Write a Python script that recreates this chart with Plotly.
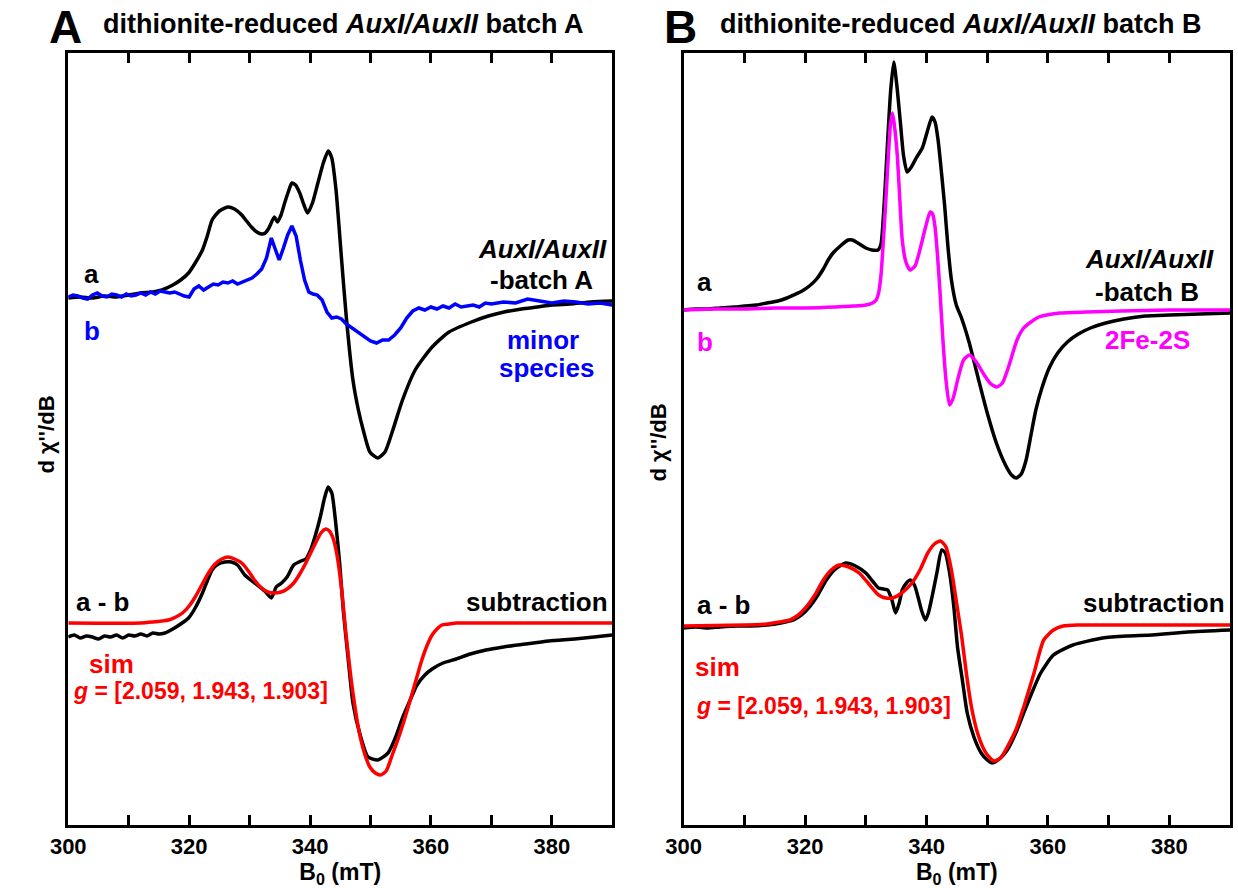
import plotly.graph_objects as go

W, H = 1238, 888

# ---------------- Panel A data (B0 in mT, signal in arbitrary units, relative to own baseline) ----
A_a_B = [300, 302, 304, 306, 308, 310, 312, 314, 315.5, 317.3, 318.6, 319.9, 321, 322.2, 323, 323.8,
         325, 326.4, 327.5, 328.7, 329.5, 330.3, 331.2, 332.0, 332.6, 333.2, 334.1, 334.6, 335.2, 335.8,
         336.4, 337.0, 337.6, 338.3, 339.0, 339.6, 340.4, 341.3, 342.2, 343.0, 343.6, 344.3, 345.2,
         346.0, 347.1, 348.0, 348.8, 349.9, 351.2, 352.4, 353.7, 355.3, 357.4, 360.2, 363.0, 366.7,
         369.5, 372.1, 375, 377.6, 380, 383.0, 386.5, 390]
A_a_val = [0, 1, 0, 2, 1, 3, 5, 6, 8, 13, 18, 25, 35, 48, 62, 78, 87, 91, 89, 83, 77, 71, 66, 64, 65,
           70, 81, 76, 83, 95, 106, 115, 113, 105, 93, 85, 95, 115, 135, 147, 140, 108, 40, -19, -82,
           -112, -132, -154, -160, -154, -132, -102, -72, -49, -34, -24, -18, -14, -11, -9, -7, -6, -4, -3]

A_b_B = [300, 300.8, 301.6, 302.4, 303.2, 304, 304.8, 305.6, 306.4, 307.2, 308, 308.8, 309.6, 310.4,
         311.2, 312, 312.8, 313.6, 314.4, 315.2, 316, 316.8, 317.6, 318.4, 319.2, 320, 320.8, 321.6,
         322.4, 323.2, 324, 324.8, 325.6, 326.4, 327.2, 328, 328.8, 329.6, 330.4, 331.2, 332, 332.8,
         333.6, 334.3, 334.9, 335.6, 336.3, 337.0, 337.7, 338.4, 339.1, 339.8, 340.5, 341.2, 342,
         342.8, 343.6, 344.4, 345.2, 346, 347, 348, 349, 350, 351, 352, 353, 354, 355, 356, 357, 358,
         359, 360, 361, 362, 363, 364, 365, 366, 367, 368, 369, 370, 372, 374, 376, 378, 380, 382,
         384, 386, 388, 390]
A_b_val = [1, 3, 2, 0, -1, 3, 5, 2, 1, 4, 3, 1, 4, 2, 3, 5, 3, 6, 4, 7, 6, 5, 6, 4, 2, 1, 9, 12, 8,
           11, 14, 13, 16, 15, 17, 14, 16, 18, 20, 24, 29, 40, 60, 48, 38, 50, 63, 72, 62, 38, 18, 6,
           4, 3, -2, -14, -20, -19, -21, -26, -30, -34, -38, -43, -45, -42, -42, -37, -30, -20, -13,
           -10, -12, -9, -11, -8, -10, -6, -9, -8, -7, -9, -5, -6, -4, -5, -1, -3, -5, -3, -4, -6, -5, -7]

A_sub_B = [300, 301, 302, 303, 304, 305, 306, 307, 308, 309, 310, 311, 312, 313, 314, 315, 316, 317.3,
           318.6, 319.9, 321, 322.2, 323.0, 323.8, 324.8, 325.9, 327, 328.0, 329.2, 330.2, 331.3, 332.5,
           333.6, 334.4, 335.3, 336.2, 337.3, 338.5, 339.3, 340.1, 340.9, 341.7, 342.4, 343.0, 343.6,
           344.2, 344.9, 345.5, 346.3, 347.1, 348.3, 349.6, 351.2, 352.9, 354.1, 355.3, 356.5, 357.7,
           359, 360.2, 362, 364.2, 366.5, 369.1, 372, 375.6, 379.5, 383.8, 387, 390]
A_sub_val = [-14, -12, -15, -13, -14, -16, -13, -14, -12, -15, -12, -13, -11, -13, -10, -11, -10, -6,
             -1, 5, 15, 30, 42, 53, 59, 61, 61, 58, 48, 43, 38, 32, 25, 36, 40, 46, 58, 62, 64, 73, 88,
             106, 125, 136, 130, 103, 60, 13, -35, -80, -112, -134, -137, -130, -115, -95, -78, -62,
             -52, -46, -40, -36, -31, -27, -24, -21, -18, -16, -14, -12]

A_sim_B = [300, 312, 314, 315.5, 316.6, 317.8, 318.9, 320, 321.0, 322.1, 323.2, 324.3, 325.4, 326.4,
           327.5, 328.7, 329.8, 330.8, 332, 333, 334.1, 335.2, 336.2, 337.3, 338.4, 339.3, 340.1, 341,
           341.8, 342.6, 343.2, 343.8, 344.4, 345.2, 346.0, 347.1, 348.3, 349.1, 349.9, 350.8, 351.7,
           352.6, 353.6, 354.8, 356.1, 357.3, 358.5, 359.4, 360.2, 361, 361.8, 363, 364.2, 370, 380, 390]
A_sim_val = [0, 0, 1, 2, 3, 6, 10, 17, 26, 38, 50, 59, 64, 66, 64, 60, 52, 43, 35, 31, 30, 31, 34, 40,
             50, 60, 70, 81, 90, 94, 92, 85, 70, 35, -14, -70, -114, -132, -144, -150, -152, -148,
             -132, -112, -87, -62, -37, -22, -12, -6, -2, -1, 0, 0, 0, 0]

# ---------------- Panel B data ----------------
B_a_B = [300, 302, 304, 306, 308.4, 310, 312, 313.7, 315.5, 317, 318.1, 319.5, 320.7, 321.9, 323.0,
         323.8, 324.6, 325.8, 327.1, 327.8, 328.4, 329.2, 330.0, 331, 332.0, 332.5, 332.8, 333.2,
         333.6, 334.1, 334.6, 335.1, 335.7, 336.2, 336.8, 337.5, 338.3, 339.3, 340.1, 340.9, 341.4,
         341.9, 342.5, 343.0, 343.5, 344.1, 344.9, 345.7, 347.0, 348.5, 350.0, 351.5, 353.0, 354.0,
         354.8, 355.6, 356.4, 357.2, 358.0, 359.0, 360.2, 361.6, 363.2, 365.0, 367.0, 369.5, 372.5,
         376, 380, 385, 390]
B_a_val = [0, 1, 1, 2, 3, 4, 5, 7, 9, 12, 15, 19, 24, 31, 41, 50, 57, 64, 70, 70, 68, 65, 62, 60, 60,
           66, 85, 125, 170, 220, 248, 225, 187, 155, 138, 143, 152, 162, 178, 193, 188, 170, 135,
           103, 65, 30, 5, -7, -32, -68, -103, -133, -155, -165, -168, -164, -150, -125, -100, -78,
           -58, -43, -32, -24, -18, -13, -9, -6, -5, -4, -3]

B_b_B = [300, 305, 310, 315, 320, 325, 328, 330, 331.1, 331.7, 332.1, 332.5, 332.9, 333.3, 333.7,
         334.05, 334.4, 334.8, 335.2, 335.6, 336.0, 336.6, 337.3, 338.1, 338.9, 339.8, 340.6, 341.0,
         341.4, 341.8, 342.2, 342.7, 343.2, 343.8, 344.4, 345.2, 346.1, 347.1, 348.2, 349.5, 350.6,
         351.6, 352.5, 353.5, 354.9, 356, 357.2, 358.5, 359.8, 362, 366.3, 372, 380, 390]
B_b_val = [0, 1, 1, 2, 2, 3, 4, 5, 7, 10, 17, 35, 70, 110, 153, 185, 197, 180, 153, 110, 70, 48, 40,
           44, 60, 82, 98, 96, 83, 55, 20, -30, -70, -95, -88, -68, -50, -45, -52, -65, -74, -77,
           -73, -57, -30, -18, -12, -7, -5, -3, -2, -1, 0, 0]

B_sub_B = [300, 302, 304, 306, 308.9, 311, 313.7, 316, 318.1, 319.4, 320.7, 322.1, 323.5, 325, 326.7,
           328.3, 330.0, 331.1, 332.1, 332.9, 333.6, 334.3, 334.9, 335.5, 336.0, 336.7, 337.3, 338.0,
           338.6, 339.2, 339.8, 340.3, 340.9, 341.7, 342.5, 343.1, 343.8, 344.5, 345.1, 345.9, 346.7,
           347.8, 349.0, 350.0, 350.8, 352, 353.3, 354.7, 356.0, 357.4, 358.8, 360.9, 364.1, 369.0,
           373, 377.2, 383, 390]
B_sub_val = [-3, -2, -3, -2, -1, -1, 0, 2, 5, 10, 18, 30, 45, 56, 62, 59, 52, 44, 37, 36, 35, 25, 12,
             22, 35, 42, 45, 40, 28, 14, 5, 12, 28, 52, 75, 72, 52, 18, -22, -55, -88, -112, -128,
             -135, -138, -134, -125, -108, -88, -67, -48, -30, -20, -13, -11, -10, -7, -5]

B_sim_B = [300, 310, 313.7, 315.8, 317.5, 318.9, 320.2, 321.6, 323.0, 324.3, 325.6, 327.2, 328.9,
           330.5, 332.1, 333.3, 334.4, 335.9, 337.6, 339, 340.2, 341.3, 342.3, 343.2, 344.1, 345.0,
           345.8, 346.6, 347.4, 348.4, 349.5, 350.3, 351.1, 352.2, 353.3, 354.7, 356.0, 357.7, 359.3,
           360.9, 362.5, 365, 375, 390]
B_sim_val = [-1, 0, 1, 3, 5, 10, 18, 30, 45, 55, 60, 58, 52, 41, 30, 27, 27, 32, 42, 56, 72, 81, 84,
             78, 55, 20, -12, -50, -82, -108, -125, -132, -136, -133, -122, -105, -82, -48, -15, -5,
             -1, 0, 0, 0]

# vertical offsets of the stacked spectra
OFF_A_TOP, OFF_A_BOT = 527, 202
OFF_B_TOP, OFF_B_BOT = 515, 200

for xs, ys in [(A_a_B, A_a_val), (A_b_B, A_b_val), (A_sub_B, A_sub_val), (A_sim_B, A_sim_val),
               (B_a_B, B_a_val), (B_b_B, B_b_val), (B_sub_B, B_sub_val), (B_sim_B, B_sim_val)]:
    assert len(xs) == len(ys), (len(xs), len(ys), xs[0])

MAJOR_TICKS = [300, 320, 340, 360, 380]

FONT = "Liberation Sans, Arial, sans-serif"
BLACK, BLUE, MAG, RED = "#000000", "#0000FF", "#FF00FF", "#FF0000"

fig = go.Figure()


def add(xs, ys, off, color, xa, ya, smooth=False):
    fig.add_trace(go.Scatter(
        x=xs, y=[v + off for v in ys], mode="lines",
        line=dict(color=color, width=3.5, shape="spline" if smooth else "linear",
                  smoothing=0.6 if smooth else None),
        xaxis=xa, yaxis=ya, showlegend=False, hoverinfo="skip"))


add(A_a_B, A_a_val, OFF_A_TOP, BLACK, "x", "y", True)
add(A_b_B, A_b_val, OFF_A_TOP, BLUE, "x", "y")
add(A_sub_B, A_sub_val, OFF_A_BOT, BLACK, "x", "y", True)
add(A_sim_B, A_sim_val, OFF_A_BOT, RED, "x", "y", True)

add(B_a_B, B_a_val, OFF_B_TOP, BLACK, "x2", "y2", True)
add(B_b_B, B_b_val, OFF_B_TOP, MAG, "x2", "y2", True)
add(B_sub_B, B_sub_val, OFF_B_BOT, BLACK, "x2", "y2", True)
add(B_sim_B, B_sim_val, OFF_B_BOT, RED, "x2", "y2", True)

ydom = [1 - 825 / H, 1 - 53 / H]
xcommon = dict(range=[300, 390], tickmode="array", tickvals=MAJOR_TICKS, ticks="inside", ticklen=10,
               tickwidth=3, tickcolor="black", showline=True, linewidth=3, linecolor="black",
               mirror="ticks", showgrid=False, zeroline=False,
               minor=dict(tickmode="linear", tick0=300, dtick=10, ticks="inside", ticklen=10,
                          tickwidth=3, tickcolor="black", showgrid=False),
               tickfont=dict(family=FONT, size=22, color="black", weight="bold"),
               title=dict(text="<b>B<sub>0</sub> (mT)</b>", font=dict(family=FONT, size=23, color="black"),
                          standoff=4))
ycommon = dict(range=[0, 772], showline=True, linewidth=3, linecolor="black", mirror=True,
               showticklabels=False, ticks="", showgrid=False, zeroline=False, domain=ydom)

fig.update_layout(
    width=W, height=H, margin=dict(l=0, r=0, t=0, b=0),
    paper_bgcolor="white", plot_bgcolor="white",
    xaxis=dict(domain=[51 / W, 603 / W], anchor="y", **xcommon),
    yaxis=dict(anchor="x", **ycommon),
    xaxis2=dict(domain=[675.5 / W, 1230 / W], anchor="y2", **xcommon),
    yaxis2=dict(anchor="x2", **ycommon),
)


def ann(text, x, y, color=BLACK, size=26, xanchor="center", angle=0):
    fig.add_annotation(text=text, x=x / W, y=1 - y / H, xref="paper", yref="paper",
                       xanchor=xanchor, yanchor="middle", showarrow=False, textangle=angle,
                       font=dict(family=FONT, size=size, color=color))


# panel headers
ann("<b>A</b>", 48, 27, size=46)
ann("<b>dithionite-reduced <i>AuxI/AuxII</i> batch A</b>", 84, 24, size=27, xanchor="left")
ann("<b>B</b>", 672, 27, size=46)
ann("<b>dithionite-reduced <i>AuxI/AuxII</i> batch B</b>", 710, 24, size=27, xanchor="left")

# y-axis titles
ann("<b>d χ''/dB</b>", 28, 435, size=22, angle=-90)
ann("<b>d χ''/dB</b>", 650, 443, size=22, angle=-90)

# panel A labels
ann("<b>a</b>", 75, 274)
ann("<b>b</b>", 75, 331, color=BLUE)
ann("<b><i>AuxI/AuxII</i></b>", 532, 249)
ann("<b>-batch A</b>", 531, 280)
ann("<b>minor</b>", 533, 340, color=BLUE)
ann("<b>species</b>", 536, 368, color=BLUE)
ann("<b>a - b</b>", 86, 602)
ann("<b>subtraction</b>", 527, 602)
ann("<b>sim</b>", 95, 664, color=RED)
ann("<b><i>g</i> = [2.059, 1.943, 1.903]</b>", 185, 691, color=RED, size=23)

# panel B labels
ann("<b>a</b>", 697, 282)
ann("<b>b</b>", 697, 342, color=MAG)
ann("<b><i>AuxI/AuxII</i></b>", 1148, 259)
ann("<b>-batch B</b>", 1146, 292)
ann("<b>2Fe-2S</b>", 1146, 340, color=MAG)
ann("<b>a - b</b>", 716, 605)
ann("<b>subtraction</b>", 1153, 603)
ann("<b>sim</b>", 710, 667, color=RED)
ann("<b><i>g</i> = [2.059, 1.943, 1.903]</b>", 817, 706, color=RED, size=23)

fig.write_html("out.html")
